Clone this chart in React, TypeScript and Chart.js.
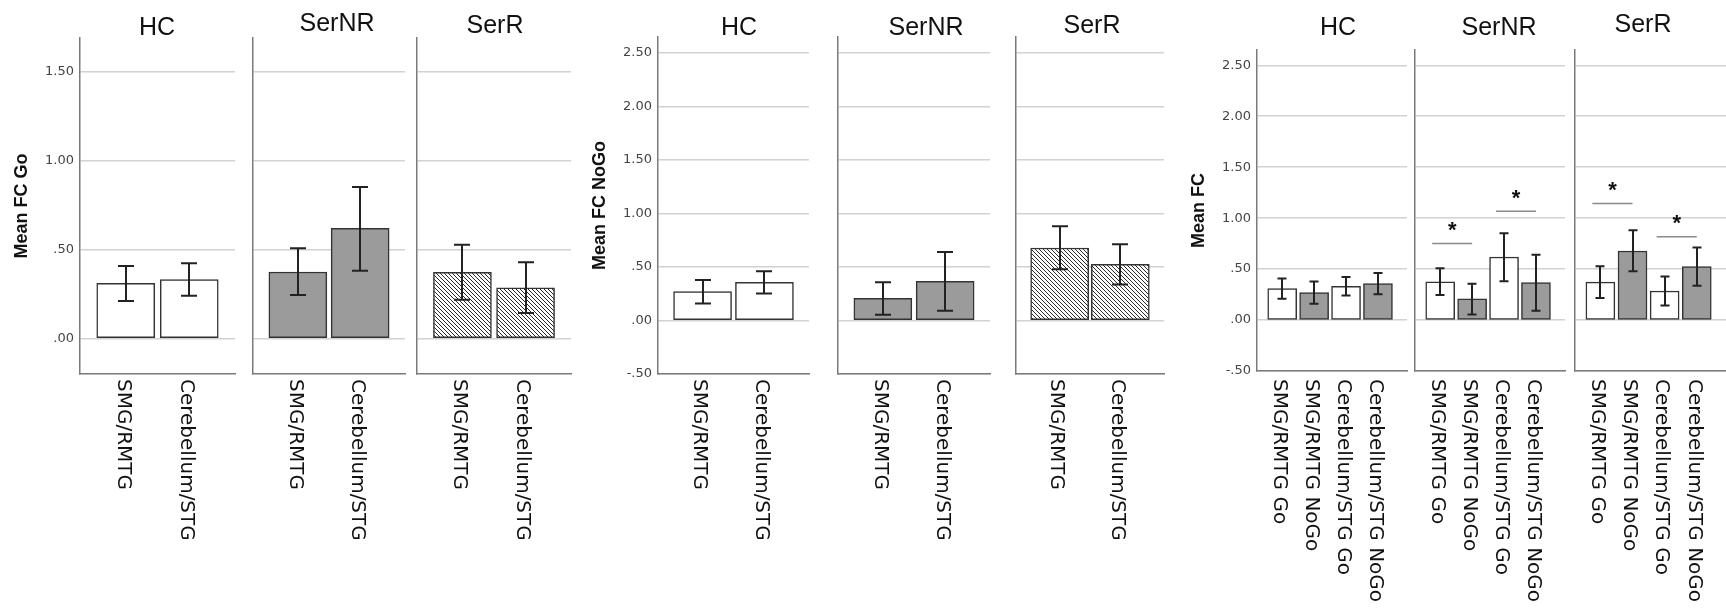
import React, { useEffect, useRef } from "react";
import { Chart, registerables } from "chart.js";

Chart.register(...registerables);

// ---------- data ----------
const GROUPS = ["HC", "SerNR", "SerR"];
const REGIONS = ["SMG/RMTG", "Cerebellum/STG"];
const CONDITIONS = ["Go", "NoGo"];

// rows = group (HC, SerNR, SerR); cols = region (SMG/RMTG, Cerebellum/STG)
const GO_MEAN = [[0.31, 0.331], [0.374, 0.619], [0.372, 0.285]];
const GO_LOW = [[0.21, 0.24], [0.245, 0.381], [0.217, 0.143]];
const GO_HIGH = [[0.408, 0.423], [0.508, 0.852], [0.527, 0.428]];

const NOGO_MEAN = [[0.27, 0.358], [0.207, 0.367], [0.678, 0.524]];
const NOGO_LOW = [[0.16, 0.253], [0.054, 0.091], [0.48, 0.337]];
const NOGO_HIGH = [[0.378, 0.461], [0.357, 0.64], [0.88, 0.713]];

// significance brackets in the combined chart: [fromBar, toBar, level]
const SIG = [[], [[0, 1, 0.75], [2, 3, 1.067]], [[0, 1, 1.144], [2, 3, 0.817]]];

const Y_TITLES = ["Mean FC Go", "Mean FC NoGo", "Mean FC"];
const TICKS_GO = [0, 0.5, 1, 1.5];
const TICKS_FC = [-0.5, 0, 0.5, 1, 1.5, 2, 2.5];
const GROUP_FILL = ["white", "gray", "hatch"];
const COND_FILL = ["white", "gray"];

// ---------- layout ----------
const H = 612;
const PANEL_Y = [
  { top: 38, bottom: 374, min: -0.2, max: 1.69, ticks: TICKS_GO },
  { top: 37, bottom: 374, min: -0.5, max: 2.65, ticks: TICKS_FC },
  { top: 50, bottom: 371, min: -0.5, max: 2.65, ticks: TICKS_FC },
];
const SUB_X = [
  [[80, 235], [253, 405], [417, 571]],
  [[658, 809], [838, 990], [1016, 1164]],
  [[1257, 1407], [1415, 1565], [1575, 1726]],
];
const TITLE_X = [[157, 337, 495], [739, 926, 1092], [1338, 1499, 1643]];
const TITLE_BASE = [[35, 31, 33], [35, 35, 33], [35, 35, 32]];
const LABEL_TOP = 379;

const GRID = "#d2d2d2";
const AXIS = "#7a7a7a";

const fmtTick = (v: number) => {
  const s = Math.abs(v).toFixed(2);
  const t = s.startsWith("0") ? s.slice(1) : s;
  return (v < 0 ? "-" : "") + t;
};

function makeHatch(ctx: CanvasRenderingContext2D) {
  const c = document.createElement("canvas");
  c.width = 4;
  c.height = 4;
  const g = c.getContext("2d")!;
  g.fillStyle = "#ffffff";
  g.fillRect(0, 0, 4, 4);
  g.strokeStyle = "#2a2a2a";
  g.lineWidth = 1;
  g.beginPath();
  g.moveTo(-1, -1);
  g.lineTo(5, 5);
  g.moveTo(-1, 3);
  g.lineTo(1, 5);
  g.moveTo(3, -1);
  g.lineTo(5, 1);
  g.stroke();
  return ctx.createPattern(c, "repeat");
}

function buildSpecs() {
  const specs: any[] = [];
  for (let p = 0; p < 3; p++) {
    for (let g = 0; g < 3; g++) {
      let labels: string[], means: number[], lows: number[], highs: number[], fills: string[];
      if (p < 2) {
        const M = p === 0 ? GO_MEAN : NOGO_MEAN;
        const L = p === 0 ? GO_LOW : NOGO_LOW;
        const U = p === 0 ? GO_HIGH : NOGO_HIGH;
        labels = REGIONS.slice();
        means = M[g].slice();
        lows = L[g].slice();
        highs = U[g].slice();
        fills = REGIONS.map(() => GROUP_FILL[g]);
      } else {
        labels = [];
        means = [];
        lows = [];
        highs = [];
        fills = [];
        REGIONS.forEach((r, ri) => {
          CONDITIONS.forEach((c, ci) => {
            labels.push(r + " " + c);
            means.push((ci === 0 ? GO_MEAN : NOGO_MEAN)[g][ri]);
            lows.push((ci === 0 ? GO_LOW : NOGO_LOW)[g][ri]);
            highs.push((ci === 0 ? GO_HIGH : NOGO_HIGH)[g][ri]);
            fills.push(COND_FILL[ci]);
          });
        });
      }
      const first = g === 0;
      const yw = first ? 70 : 10;
      const [left, right] = SUB_X[p][g];
      const rp = 6;
      specs.push({
        key: p + "-" + g,
        title: GROUPS[g],
        titleX: TITLE_X[p][g],
        titleBase: TITLE_BASE[p][g],
        yTitle: Y_TITLES[p],
        first,
        yw,
        rp,
        canvasLeft: left - yw,
        width: yw + (right - left) + rp,
        top: PANEL_Y[p].top,
        bottom: PANEL_Y[p].bottom,
        yMin: PANEL_Y[p].min,
        yMax: PANEL_Y[p].max,
        ticks: PANEL_Y[p].ticks,
        xMin: p < 2 ? -0.72 : -0.79,
        xMax: p < 2 ? 1.72 : 3.91,
        barThickness: p < 2 ? 58 : 29,
        cap: p < 2 ? 16 : 9,
        labelShift: -3,
        sig: p === 2 ? SIG[g] : [],
        labels,
        means,
        lows,
        highs,
        fills,
      });
    }
  }
  return specs;
}

function SubPanel({ spec }: { spec: any }) {
  const ref = useRef<HTMLCanvasElement | null>(null);
  useEffect(() => {
    const canvas = ref.current!;
    const ctx = canvas.getContext("2d")!;
    const hatch = makeHatch(ctx);
    const colorOf = (f: string) => (f === "white" ? "#ffffff" : f === "gray" ? "#9b9b9b" : hatch);

    const overlay = {
      id: "overlay",
      afterDatasetsDraw(chart: any) {
        const c = chart.ctx;
        const xs = chart.scales.x;
        const ys = chart.scales.y;
        c.save();
        c.strokeStyle = "#222";
        c.lineWidth = 2;
        const half = spec.cap / 2;
        spec.means.forEach((_: number, i: number) => {
          const x = Math.round(xs.getPixelForValue(i));
          const y1 = ys.getPixelForValue(spec.lows[i]);
          const y2 = ys.getPixelForValue(spec.highs[i]);
          c.beginPath();
          c.moveTo(x, y1);
          c.lineTo(x, y2);
          c.moveTo(x - half, y1);
          c.lineTo(x + half, y1);
          c.moveTo(x - half, y2);
          c.lineTo(x + half, y2);
          c.stroke();
        });
        spec.sig.forEach(([a, b, lvl]: number[]) => {
          const xa = xs.getPixelForValue(a) - 8;
          const xb = xs.getPixelForValue(b);
          const y = ys.getPixelForValue(lvl);
          c.strokeStyle = "#8a8a8a";
          c.lineWidth = 1.5;
          c.beginPath();
          c.moveTo(xa, y);
          c.lineTo(xb, y);
          c.stroke();
          c.fillStyle = "#111";
          c.font = 'bold 22px "Liberation Sans", Arial, sans-serif';
          c.textAlign = "center";
          c.textBaseline = "alphabetic";
          c.fillText("*", (xa + xb) / 2, y - 19 + 0.57 * 22);
        });
        c.restore();
      },
      afterDraw(chart: any) {
        const c = chart.ctx;
        const xs = chart.scales.x;
        c.save();
        c.fillStyle = "#111";
        c.font = '20px "DejaVu Sans", sans-serif';
        c.textAlign = "left";
        c.textBaseline = "middle";
        spec.labels.forEach((lab: string, i: number) => {
          const x = xs.getPixelForValue(i) + spec.labelShift;
          c.save();
          c.translate(x, LABEL_TOP);
          c.rotate(Math.PI / 2);
          c.fillText(lab, 0, 0);
          c.restore();
        });
        c.font = '25px "Liberation Sans", Arial, sans-serif';
        c.textAlign = "center";
        c.textBaseline = "alphabetic";
        c.fillText(spec.title, spec.titleX - spec.canvasLeft, spec.titleBase);
        c.restore();
      },
    };

    const chart = new Chart(canvas, {
      type: "bar",
      data: {
        datasets: [
          {
            data: spec.means.map((v: number, i: number) => ({ x: i, y: v })),
            backgroundColor: spec.fills.map(colorOf),
            borderColor: "#333",
            borderWidth: 1.5,
            borderSkipped: false,
            barThickness: spec.barThickness,
          } as any,
        ],
      },
      options: {
        responsive: false,
        animation: false,
        events: [],
        layout: { padding: { top: spec.top, right: spec.rp, left: 0, bottom: 0 } },
        plugins: { legend: { display: false }, tooltip: { enabled: false }, title: { display: false } },
        scales: {
          x: {
            type: "linear",
            offset: false,
            bounds: "data",
            min: spec.xMin,
            max: spec.xMax,
            grid: { display: false, drawTicks: false, offset: false },
            border: { display: true, color: AXIS, width: 1.5 },
            ticks: { display: false },
            afterBuildTicks: (s: any) => {
              s.ticks = spec.labels.map((_: string, i: number) => ({ value: i }));
            },
            afterFit: (s: any) => {
              s.height = H - spec.bottom;
            },
          },
          y: {
            type: "linear",
            min: spec.yMin,
            max: spec.yMax,
            afterBuildTicks: (s: any) => {
              s.ticks = spec.ticks.map((v: number) => ({ value: v }));
            },
            grid: { color: GRID, lineWidth: 1.5, drawTicks: false },
            border: { display: true, color: AXIS, width: 1.5 },
            ticks: {
              display: spec.first,
              padding: 6,
              color: "#444",
              font: { family: '"DejaVu Sans", sans-serif', size: 13 },
              callback: (v: any) => fmtTick(Number(v)),
            },
            title: {
              display: spec.first,
              text: spec.yTitle,
              color: "#111",
              font: { family: '"Liberation Sans", Arial, sans-serif', size: 18, weight: "bold" },
              padding: { top: 1.7, bottom: 0 },
            },
            afterFit: (s: any) => {
              s.width = spec.yw;
            },
          },
        },
      } as any,
      plugins: [overlay],
    });
    return () => chart.destroy();
  }, [spec]);

  return (
    <canvas
      ref={ref}
      width={spec.width}
      height={H}
      style={{ position: "absolute", left: spec.canvasLeft, top: 0, width: spec.width, height: H }}
    />
  );
}

const SPECS = buildSpecs();

export default function App() {
  return (
    <div
      style={{
        position: "absolute",
        left: 0,
        top: 0,
        width: 1726,
        height: H,
        overflow: "hidden",
        background: "#ffffff",
      }}
    >
      {SPECS.map((s) => (
        <SubPanel key={s.key} spec={s} />
      ))}
    </div>
  );
}
